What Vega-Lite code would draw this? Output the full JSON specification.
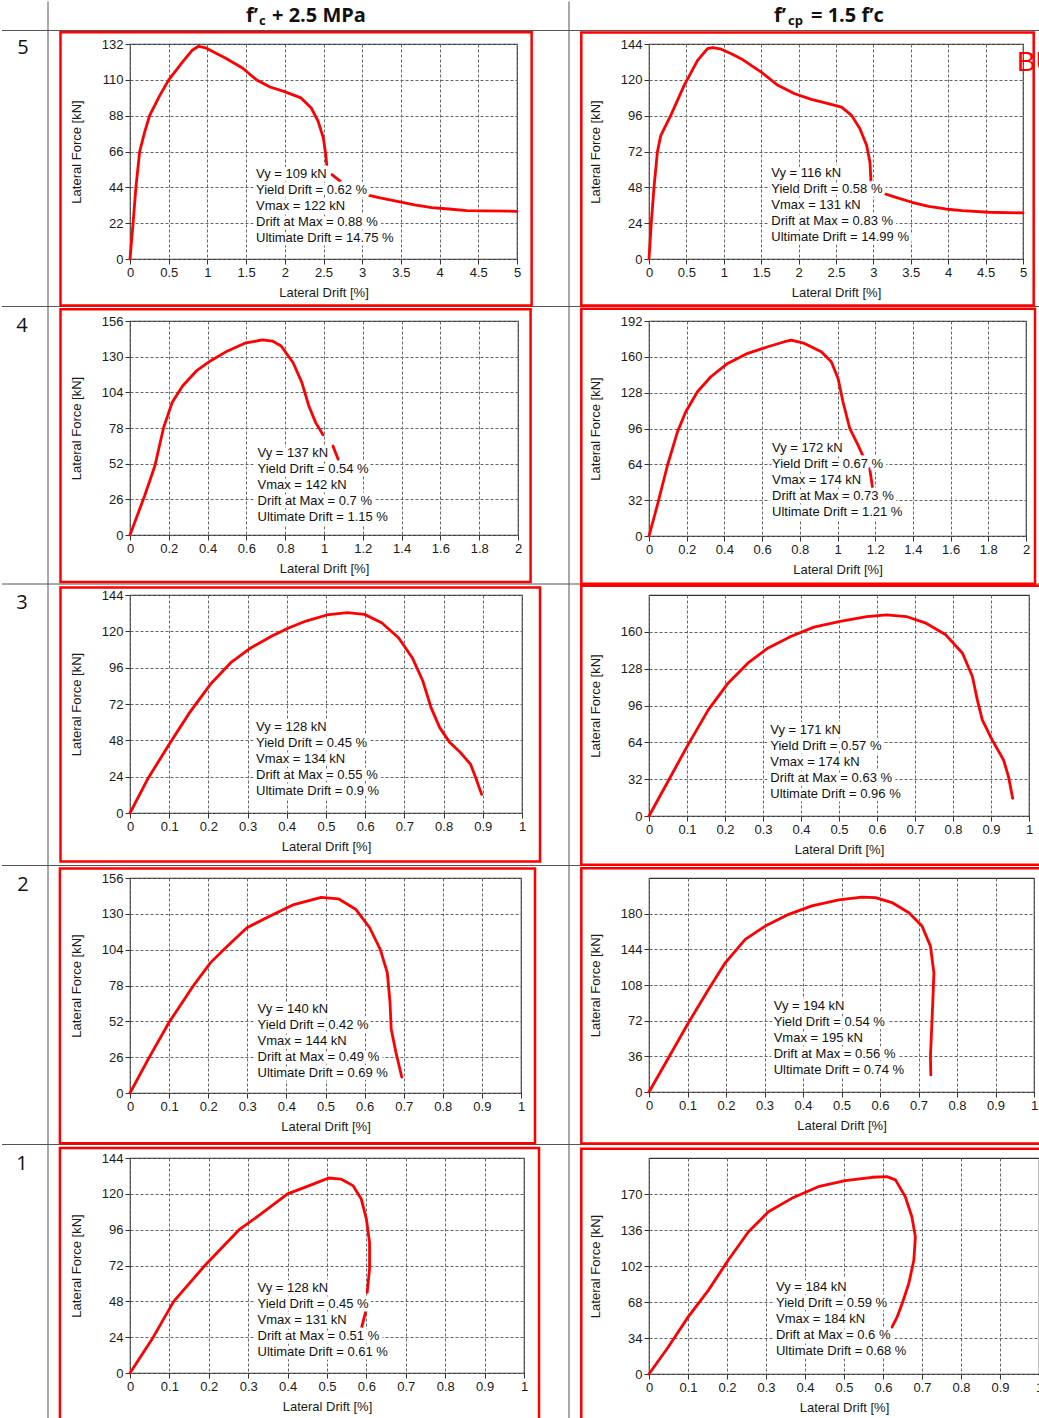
{
"$schema": "https://vega.github.io/schema/vega-lite/v6.json",
"background": "white",
"padding": 0,
"autosize": {"type": "pad"},
"datasets": {
"L5": [{"seg":1,"drift":0,"force":0},{"seg":1,"drift":0.04,"force":22},{"seg":1,"drift":0.076,"force":44},{"seg":1,"drift":0.125,"force":66},{"seg":1,"drift":0.19,"force":78},{"seg":1,"drift":0.253,"force":88},{"seg":1,"drift":0.38,"force":100},{"seg":1,"drift":0.5,"force":110},{"seg":1,"drift":0.68,"force":121},{"seg":1,"drift":0.8,"force":128},{"seg":1,"drift":0.885,"force":130.6},{"seg":1,"drift":0.98,"force":129.6},{"seg":1,"drift":1.231,"force":123.4},{"seg":1,"drift":1.453,"force":117.3},{"seg":1,"drift":1.631,"force":110.1},{"seg":1,"drift":1.809,"force":105.6},{"seg":1,"drift":1.987,"force":102.9},{"seg":1,"drift":2.209,"force":98.9},{"seg":1,"drift":2.342,"force":92.7},{"seg":1,"drift":2.431,"force":84.5},{"seg":1,"drift":2.498,"force":74.3},{"seg":1,"drift":2.529,"force":64.1},{"seg":1,"drift":2.542,"force":57.9},{"seg":2,"drift":2.609,"force":51.8},{"seg":2,"drift":2.72,"force":47.7},{"seg":3,"drift":3.089,"force":39.1},{"seg":3,"drift":3.231,"force":37.5},{"seg":3,"drift":3.453,"force":35.4},{"seg":3,"drift":3.676,"force":33.2},{"seg":3,"drift":3.898,"force":31.5},{"seg":3,"drift":4.12,"force":30.7},{"seg":3,"drift":4.35,"force":29.7},{"seg":3,"drift":4.6,"force":29.5},{"seg":3,"drift":5,"force":29.3}],
"R5": [{"seg":1,"drift":0,"force":0},{"seg":1,"drift":0.031,"force":24.6},{"seg":1,"drift":0.067,"force":48.1},{"seg":1,"drift":0.112,"force":71.6},{"seg":1,"drift":0.157,"force":82.7},{"seg":1,"drift":0.291,"force":96.2},{"seg":1,"drift":0.47,"force":116.3},{"seg":1,"drift":0.649,"force":133},{"seg":1,"drift":0.783,"force":140.9},{"seg":1,"drift":0.85,"force":141.5},{"seg":1,"drift":0.95,"force":140.8},{"seg":1,"drift":1.1,"force":137.5},{"seg":1,"drift":1.231,"force":134.2},{"seg":1,"drift":1.5,"force":125.2},{"seg":1,"drift":1.723,"force":116.3},{"seg":1,"drift":1.947,"force":110.7},{"seg":1,"drift":2.171,"force":106.9},{"seg":1,"drift":2.395,"force":104},{"seg":1,"drift":2.574,"force":101.7},{"seg":1,"drift":2.708,"force":96.2},{"seg":1,"drift":2.82,"force":87.2},{"seg":1,"drift":2.91,"force":76},{"seg":1,"drift":2.954,"force":64.8},{"seg":1,"drift":2.968,"force":51.4},{"seg":2,"drift":3.089,"force":44.7},{"seg":2,"drift":3.29,"force":41.4},{"seg":2,"drift":3.514,"force":38},{"seg":2,"drift":3.738,"force":35.3},{"seg":2,"drift":3.962,"force":33.5},{"seg":2,"drift":4.185,"force":32.4},{"seg":2,"drift":4.543,"force":31.3},{"seg":2,"drift":5,"force":30.9}],
"L4": [{"seg":1,"drift":0,"force":0},{"seg":1,"drift":0.075,"force":28.4},{"seg":1,"drift":0.128,"force":50.3},{"seg":1,"drift":0.173,"force":78.2},{"seg":1,"drift":0.217,"force":96.5},{"seg":1,"drift":0.271,"force":108.6},{"seg":1,"drift":0.342,"force":119.6},{"seg":1,"drift":0.414,"force":126.9},{"seg":1,"drift":0.503,"force":134.2},{"seg":1,"drift":0.592,"force":139.8},{"seg":1,"drift":0.681,"force":142.2},{"seg":1,"drift":0.734,"force":141.4},{"seg":1,"drift":0.779,"force":137.8},{"seg":1,"drift":0.841,"force":125.6},{"seg":1,"drift":0.886,"force":111.1},{"seg":1,"drift":0.922,"force":94},{"seg":1,"drift":0.957,"force":81.9},{"seg":1,"drift":0.995,"force":73},{"seg":2,"drift":1.046,"force":64.9},{"seg":2,"drift":1.073,"force":55.2}],
"R4": [{"seg":1,"drift":0,"force":0},{"seg":1,"drift":0.044,"force":27.4},{"seg":1,"drift":0.098,"force":63.2},{"seg":1,"drift":0.151,"force":93},{"seg":1,"drift":0.195,"force":110.9},{"seg":1,"drift":0.257,"force":128.8},{"seg":1,"drift":0.328,"force":142.2},{"seg":1,"drift":0.417,"force":154.1},{"seg":1,"drift":0.524,"force":163.1},{"seg":1,"drift":0.63,"force":169},{"seg":1,"drift":0.719,"force":173.5},{"seg":1,"drift":0.755,"force":175},{"seg":1,"drift":0.825,"force":172},{"seg":1,"drift":0.914,"force":164.6},{"seg":1,"drift":0.967,"force":155.6},{"seg":1,"drift":1.003,"force":140.7},{"seg":1,"drift":1.029,"force":119.9},{"seg":1,"drift":1.065,"force":96},{"seg":1,"drift":1.109,"force":81.1},{"seg":1,"drift":1.141,"force":69.2},{"seg":2,"drift":1.171,"force":60.2},{"seg":2,"drift":1.189,"force":39.4}],
"L3": [{"seg":1,"drift":0,"force":0},{"seg":1,"drift":0.047,"force":23.3},{"seg":1,"drift":0.1,"force":45.4},{"seg":1,"drift":0.152,"force":66.3},{"seg":1,"drift":0.205,"force":85},{"seg":1,"drift":0.257,"force":99.3},{"seg":1,"drift":0.309,"force":109.2},{"seg":1,"drift":0.362,"force":116.9},{"seg":1,"drift":0.406,"force":122.4},{"seg":1,"drift":0.449,"force":126.8},{"seg":1,"drift":0.502,"force":130.8},{"seg":1,"drift":0.554,"force":132.3},{"seg":1,"drift":0.598,"force":131.2},{"seg":1,"drift":0.642,"force":125.7},{"seg":1,"drift":0.685,"force":115.8},{"seg":1,"drift":0.72,"force":102.6},{"seg":1,"drift":0.747,"force":87.2},{"seg":1,"drift":0.768,"force":69.6},{"seg":1,"drift":0.79,"force":56.4},{"seg":1,"drift":0.816,"force":46.5},{"seg":1,"drift":0.843,"force":39.9},{"seg":1,"drift":0.869,"force":32.1},{"seg":1,"drift":0.882,"force":23.3},{"seg":1,"drift":0.897,"force":12.3}],
"R3": [{"seg":1,"drift":0,"force":0},{"seg":1,"drift":0.052,"force":31.3},{"seg":1,"drift":0.1,"force":60.3},{"seg":1,"drift":0.156,"force":92.2},{"seg":1,"drift":0.208,"force":115.4},{"seg":1,"drift":0.26,"force":132.8},{"seg":1,"drift":0.3125,"force":145.8},{"seg":1,"drift":0.373,"force":155.9},{"seg":1,"drift":0.434,"force":164.1},{"seg":1,"drift":0.503,"force":169},{"seg":1,"drift":0.573,"force":173.3},{"seg":1,"drift":0.625,"force":174.8},{"seg":1,"drift":0.677,"force":173.3},{"seg":1,"drift":0.729,"force":167.5},{"seg":1,"drift":0.781,"force":157.4},{"seg":1,"drift":0.825,"force":141.4},{"seg":1,"drift":0.851,"force":121.2},{"seg":1,"drift":0.864,"force":100.9},{"seg":1,"drift":0.877,"force":83.5},{"seg":1,"drift":0.903,"force":66.1},{"seg":1,"drift":0.933,"force":48.7},{"seg":1,"drift":0.946,"force":34.2},{"seg":1,"drift":0.957,"force":15.4}],
"L2": [{"seg":1,"drift":0,"force":0},{"seg":1,"drift":0.047,"force":24.8},{"seg":1,"drift":0.1,"force":51.3},{"seg":1,"drift":0.162,"force":77.8},{"seg":1,"drift":0.206,"force":94.6},{"seg":1,"drift":0.242,"force":104.7},{"seg":1,"drift":0.299,"force":119.9},{"seg":1,"drift":0.357,"force":128.3},{"seg":1,"drift":0.419,"force":136.7},{"seg":1,"drift":0.489,"force":142},{"seg":1,"drift":0.534,"force":140.8},{"seg":1,"drift":0.578,"force":133.1},{"seg":1,"drift":0.613,"force":119.9},{"seg":1,"drift":0.64,"force":104.2},{"seg":1,"drift":0.658,"force":87.4},{"seg":1,"drift":0.665,"force":65.7},{"seg":1,"drift":0.668,"force":46.5},{"seg":1,"drift":0.68,"force":29.6},{"seg":1,"drift":0.695,"force":11.6}],
"R2": [{"seg":1,"drift":0,"force":0},{"seg":1,"drift":0.05,"force":34.1},{"seg":1,"drift":0.102,"force":69.6},{"seg":1,"drift":0.154,"force":103.3},{"seg":1,"drift":0.198,"force":130.4},{"seg":1,"drift":0.25,"force":154},{"seg":1,"drift":0.302,"force":167.5},{"seg":1,"drift":0.363,"force":179.3},{"seg":1,"drift":0.423,"force":187.8},{"seg":1,"drift":0.493,"force":193.9},{"seg":1,"drift":0.553,"force":196.6},{"seg":1,"drift":0.588,"force":196.2},{"seg":1,"drift":0.631,"force":191.2},{"seg":1,"drift":0.675,"force":181},{"seg":1,"drift":0.709,"force":167.5},{"seg":1,"drift":0.731,"force":147.2},{"seg":1,"drift":0.74,"force":120.2},{"seg":1,"drift":0.737,"force":89.8},{"seg":1,"drift":0.734,"force":62.8},{"seg":1,"drift":0.731,"force":35.8},{"seg":1,"drift":0.732,"force":17.2}],
"L1": [{"seg":1,"drift":0,"force":0},{"seg":1,"drift":0.059,"force":24},{"seg":1,"drift":0.111,"force":48},{"seg":1,"drift":0.19,"force":72},{"seg":1,"drift":0.277,"force":96},{"seg":1,"drift":0.33,"force":106},{"seg":1,"drift":0.4,"force":120},{"seg":1,"drift":0.46,"force":126},{"seg":1,"drift":0.504,"force":130.6},{"seg":1,"drift":0.535,"force":129.9},{"seg":1,"drift":0.566,"force":125.5},{"seg":1,"drift":0.587,"force":116.5},{"seg":1,"drift":0.6,"force":103.1},{"seg":1,"drift":0.608,"force":87.5},{"seg":1,"drift":0.608,"force":69.7},{"seg":1,"drift":0.602,"force":54},{"seg":2,"drift":0.599,"force":42},{"seg":2,"drift":0.587,"force":29.5}],
"R1": [{"seg":1,"drift":0,"force":0},{"seg":1,"drift":0.049,"force":25.3},{"seg":1,"drift":0.1,"force":53.7},{"seg":1,"drift":0.152,"force":79},{"seg":1,"drift":0.203,"force":107.4},{"seg":1,"drift":0.255,"force":134.3},{"seg":1,"drift":0.306,"force":153.2},{"seg":1,"drift":0.366,"force":165.9},{"seg":1,"drift":0.434,"force":176.9},{"seg":1,"drift":0.503,"force":182.6},{"seg":1,"drift":0.572,"force":185.8},{"seg":1,"drift":0.61,"force":186.4},{"seg":1,"drift":0.632,"force":183.3},{"seg":1,"drift":0.657,"force":167.5},{"seg":1,"drift":0.674,"force":148.5},{"seg":1,"drift":0.683,"force":129.5},{"seg":1,"drift":0.679,"force":107.4},{"seg":1,"drift":0.666,"force":85.3},{"seg":1,"drift":0.649,"force":66.4},{"seg":1,"drift":0.636,"force":53.7},{"seg":1,"drift":0.623,"force":44.2}]
},
"columns": 2,
"spacing": {"row": 0, "column": 125},
"bounds": "flush",
"align": "each",
"concat": [
{"width": 354, "height": 29, "data": {"values": [{}]}, "view": {"stroke": null}, "layer": [
   {"mark": {"type": "text", "text": "f’", "font": "Open Sans", "fontWeight": "bold", "fontSize": 20, "align": "right", "baseline": "middle", "dx": -49, "color": "#111"}},
   {"mark": {"type": "text", "text": "c", "font": "Open Sans", "fontWeight": "bold", "fontSize": 13, "align": "left", "baseline": "middle", "dx": -48, "dy": 5, "color": "#111"}},
   {"mark": {"type": "text", "text": "+ 2.5 MPa", "font": "Open Sans", "fontWeight": "bold", "fontSize": 20, "align": "left", "baseline": "middle", "dx": -35, "color": "#111"}}
]},
{"width": 362, "height": 29, "data": {"values": [{}]}, "view": {"stroke": null}, "layer": [
   {"mark": {"type": "text", "text": "f’", "font": "Open Sans", "fontWeight": "bold", "fontSize": 20, "align": "right", "baseline": "middle", "dx": -44, "color": "#111"}},
   {"mark": {"type": "text", "text": "cp", "font": "Open Sans", "fontWeight": "bold", "fontSize": 13, "align": "left", "baseline": "middle", "dx": -42, "dy": 5, "color": "#111"}},
   {"mark": {"type": "text", "text": "= 1.5 f’c", "font": "Open Sans", "fontWeight": "bold", "fontSize": 20, "align": "left", "baseline": "middle", "dx": -19, "color": "#111"}}
]},
{"width":1,"height":13.5,"data":{"values":[]},"mark":"point","view":{"stroke":null}},
{"width":1,"height":13.5,"data":{"values":[]},"mark":"point","view":{"stroke":null}},

{"width": 387, "height": 215, "layer": [
   {"data": {"values": [{}]}, "mark": {"type": "rule", "color": "#555", "strokeWidth": 1, "clip": false},
    "encoding": {"x": {"datum": -1.6537, "type": "quantitative"}, "x2": {"datum": 11.770}, "y": {"datum": 140.29, "type": "quantitative"}}},
   {"data": {"values": [{}]}, "mark": {"type": "rule", "color": "#555", "strokeWidth": 1, "clip": false},
    "encoding": {"x": {"datum": -1.6537, "type": "quantitative"}, "x2": {"datum": 11.770}, "y": {"datum": -29.16, "type": "quantitative"}}},
   {"data": {"values": [{}]}, "mark": {"type": "rule", "color": "#555", "strokeWidth": 1, "clip": false},
    "encoding": {"x": {"datum": -1.0594, "type": "quantitative"}, "y": {"datum": 158.09, "type": "quantitative"}, "y2": {"datum": -712.49}}},
   {"data": {"values": [{}]}, "mark": {"type": "rule", "color": "#555", "strokeWidth": 1, "clip": false},
    "encoding": {"x": {"datum": 5.6718, "type": "quantitative"}, "y": {"datum": 158.09, "type": "quantitative"}, "y2": {"datum": -712.49}}},
   {"data": {"name": "L5"}, "mark": {"type": "line", "color": "#ff0000", "strokeWidth": 2.8, "strokeCap": "round", "strokeJoin": "round"},
    "encoding": {"x": {"field": "drift", "type": "quantitative", "scale": {"domain": [0, 5], "nice": false, "zero": false}, "axis": {"values": [0,0.5,1,1.5,2,2.5,3,3.5,4,4.5,5], "format": "~g", "title": "Lateral Drift [%]"}},
                 "y": {"field": "force", "type": "quantitative", "scale": {"domain": [0, 132], "nice": false, "zero": false}, "axis": {"values": [0,22,44,66,88,110,132], "format": "d", "title": "Lateral Force [kN]"}},
                 "detail": {"field": "seg"}, "order": {"value": null}}},
   {"data": {"values": [{}]}, "mark": {"type": "text", "text": ["Vy = 109 kN", "Yield Drift = 0.62 %", "Vmax = 122 kN", "Drift at Max = 0.88 %", "Ultimate Drift = 14.75 %"], "align": "left", "baseline": "top", "lineHeight": 16, "fontSize": 13, "font": "Liberation Sans, Arial, sans-serif", "fill": "white", "stroke": "white", "strokeWidth": 7, "strokeJoin": "round"},
    "encoding": {"x": {"datum": 1.628, "type": "quantitative"}, "y": {"datum": 56.12, "type": "quantitative"}}},
   {"data": {"values": [{}]}, "mark": {"type": "text", "text": ["Vy = 109 kN", "Yield Drift = 0.62 %", "Vmax = 122 kN", "Drift at Max = 0.88 %", "Ultimate Drift = 14.75 %"], "align": "left", "baseline": "top", "lineHeight": 16, "fontSize": 13, "font": "Liberation Sans, Arial, sans-serif", "color": "#111"},
    "encoding": {"x": {"datum": 1.628, "type": "quantitative"}, "y": {"datum": 56.12, "type": "quantitative"}}},
   {"data": {"values": [{}]}, "mark": {"type": "text", "text": "5", "align": "center", "baseline": "middle", "fontSize": 20, "font": "Open Sans", "color": "#111", "clip": false},
    "encoding": {"x": {"datum": -1.3824, "type": "quantitative"}, "y": {"datum": 129.54, "type": "quantitative"}}},
   {"data": {"values": [{}]}, "mark": {"type": "rect", "filled": false, "color": "#ff0000", "strokeWidth": 2.5, "clip": false},
    "encoding": {"x": {"datum": -0.898, "type": "quantitative"}, "x2": {"datum": 5.189}, "y": {"datum": 139.24, "type": "quantitative"}, "y2": {"datum": -28.55}}}
]},
{"width": 374, "height": 215, "layer": [
   {"data": {"name": "R5"}, "mark": {"type": "line", "color": "#ff0000", "strokeWidth": 2.8, "strokeCap": "round", "strokeJoin": "round"},
    "encoding": {"x": {"field": "drift", "type": "quantitative", "scale": {"domain": [0, 5], "nice": false, "zero": false}, "axis": {"values": [0,0.5,1,1.5,2,2.5,3,3.5,4,4.5,5], "format": "~g", "title": "Lateral Drift [%]"}},
                 "y": {"field": "force", "type": "quantitative", "scale": {"domain": [0, 144], "nice": false, "zero": false}, "axis": {"values": [0,24,48,72,96,120,144], "format": "d", "title": "Lateral Force [kN]"}},
                 "detail": {"field": "seg"}, "order": {"value": null}}},
   {"data": {"values": [{}]}, "mark": {"type": "text", "text": ["Vy = 116 kN", "Yield Drift = 0.58 %", "Vmax = 131 kN", "Drift at Max = 0.83 %", "Ultimate Drift = 14.99 %"], "align": "left", "baseline": "top", "lineHeight": 16, "fontSize": 13, "font": "Liberation Sans, Arial, sans-serif", "fill": "white", "stroke": "white", "strokeWidth": 7, "strokeJoin": "round"},
    "encoding": {"x": {"datum": 1.635, "type": "quantitative"}, "y": {"datum": 61.48, "type": "quantitative"}}},
   {"data": {"values": [{}]}, "mark": {"type": "text", "text": ["Vy = 116 kN", "Yield Drift = 0.58 %", "Vmax = 131 kN", "Drift at Max = 0.83 %", "Ultimate Drift = 14.99 %"], "align": "left", "baseline": "top", "lineHeight": 16, "fontSize": 13, "font": "Liberation Sans, Arial, sans-serif", "color": "#111"},
    "encoding": {"x": {"datum": 1.635, "type": "quantitative"}, "y": {"datum": 61.48, "type": "quantitative"}}},
   {"data": {"values": [{}]}, "mark": {"type": "rect", "filled": false, "color": "#ff0000", "strokeWidth": 2.5, "clip": false},
    "encoding": {"x": {"datum": -0.905, "type": "quantitative"}, "x2": {"datum": 5.143}, "y": {"datum": 151.70, "type": "quantitative"}, "y2": {"datum": -31.14}}},
   {"data": {"values": [{}]}, "mark": {"type": "text", "text": "BU", "align": "left", "baseline": "middle", "fontSize": 28, "font": "Liberation Sans, sans-serif", "color": "#ff0000", "clip": false},
    "encoding": {"x": {"datum": 4.92, "type": "quantitative"}, "y": {"datum": 130.94, "type": "quantitative"}}}
]},

{"width":1,"height":61.5,"data":{"values":[]},"mark":"point","view":{"stroke":null}},
{"width":1,"height":61.5,"data":{"values":[]},"mark":"point","view":{"stroke":null}},

{"width": 388, "height": 214, "layer": [
   {"data": {"values": [{}]}, "mark": {"type": "rule", "color": "#555", "strokeWidth": 1, "clip": false},
    "encoding": {"x": {"datum": -0.6598, "type": "quantitative"}, "x2": {"datum": 4.6958}, "y": {"datum": -35.72, "type": "quantitative"}}},
   {"data": {"name": "L4"}, "mark": {"type": "line", "color": "#ff0000", "strokeWidth": 2.8, "strokeCap": "round", "strokeJoin": "round"},
    "encoding": {"x": {"field": "drift", "type": "quantitative", "scale": {"domain": [0, 2], "nice": false, "zero": false}, "axis": {"values": [0,0.2,0.4,0.6,0.8,1,1.2,1.4,1.6,1.8,2], "format": "~g", "title": "Lateral Drift [%]"}},
                 "y": {"field": "force", "type": "quantitative", "scale": {"domain": [0, 156], "nice": false, "zero": false}, "axis": {"values": [0,26,52,78,104,130,156], "format": "d", "title": "Lateral Force [kN]"}},
                 "detail": {"field": "seg"}, "order": {"value": null}}},
   {"data": {"values": [{}]}, "mark": {"type": "text", "text": ["Vy = 137 kN", "Yield Drift = 0.54 %", "Vmax = 142 kN", "Drift at Max = 0.7 %", "Ultimate Drift = 1.15 %"], "align": "left", "baseline": "top", "lineHeight": 16, "fontSize": 13, "font": "Liberation Sans, Arial, sans-serif", "fill": "white", "stroke": "white", "strokeWidth": 7, "strokeJoin": "round"},
    "encoding": {"x": {"datum": 0.6572, "type": "quantitative"}, "y": {"datum": 64.08, "type": "quantitative"}}},
   {"data": {"values": [{}]}, "mark": {"type": "text", "text": ["Vy = 137 kN", "Yield Drift = 0.54 %", "Vmax = 142 kN", "Drift at Max = 0.7 %", "Ultimate Drift = 1.15 %"], "align": "left", "baseline": "top", "lineHeight": 16, "fontSize": 13, "font": "Liberation Sans, Arial, sans-serif", "color": "#111"},
    "encoding": {"x": {"datum": 0.6572, "type": "quantitative"}, "y": {"datum": 64.08, "type": "quantitative"}}},
   {"data": {"values": [{}]}, "mark": {"type": "text", "text": "4", "align": "center", "baseline": "middle", "fontSize": 20, "font": "Open Sans", "color": "#111", "clip": false},
    "encoding": {"x": {"datum": -0.5567, "type": "quantitative"}, "y": {"datum": 152.14, "type": "quantitative"}}},
   {"data": {"values": [{}]}, "mark": {"type": "rect", "filled": false, "color": "#ff0000", "strokeWidth": 2.5, "clip": false},
    "encoding": {"x": {"datum": -0.3582, "type": "quantitative"}, "x2": {"datum": 2.0649}, "y": {"datum": 164.53, "type": "quantitative"}, "y2": {"datum": -34.26}}}
]},
{"width": 377, "height": 215, "layer": [
   {"data": {"name": "R4"}, "mark": {"type": "line", "color": "#ff0000", "strokeWidth": 2.8, "strokeCap": "round", "strokeJoin": "round"},
    "encoding": {"x": {"field": "drift", "type": "quantitative", "scale": {"domain": [0, 2], "nice": false, "zero": false}, "axis": {"values": [0,0.2,0.4,0.6,0.8,1,1.2,1.4,1.6,1.8,2], "format": "~g", "title": "Lateral Drift [%]"}},
                 "y": {"field": "force", "type": "quantitative", "scale": {"domain": [0, 192], "nice": false, "zero": false}, "axis": {"values": [0,32,64,96,128,160,192], "format": "d", "title": "Lateral Force [kN]"}},
                 "detail": {"field": "seg"}, "order": {"value": null}}},
   {"data": {"values": [{}]}, "mark": {"type": "text", "text": ["Vy = 172 kN", "Yield Drift = 0.67 %", "Vmax = 174 kN", "Drift at Max = 0.73 %", "Ultimate Drift = 1.21 %"], "align": "left", "baseline": "top", "lineHeight": 16, "fontSize": 13, "font": "Liberation Sans, Arial, sans-serif", "fill": "white", "stroke": "white", "strokeWidth": 7, "strokeJoin": "round"},
    "encoding": {"x": {"datum": 0.6525, "type": "quantitative"}, "y": {"datum": 83.85, "type": "quantitative"}}},
   {"data": {"values": [{}]}, "mark": {"type": "text", "text": ["Vy = 172 kN", "Yield Drift = 0.67 %", "Vmax = 174 kN", "Drift at Max = 0.73 %", "Ultimate Drift = 1.21 %"], "align": "left", "baseline": "top", "lineHeight": 16, "fontSize": 13, "font": "Liberation Sans, Arial, sans-serif", "color": "#111"},
    "encoding": {"x": {"datum": 0.6525, "type": "quantitative"}, "y": {"datum": 83.85, "type": "quantitative"}}},
   {"data": {"values": [{}]}, "mark": {"type": "rect", "filled": false, "color": "#ff0000", "strokeWidth": 2.5, "clip": false},
    "encoding": {"x": {"datum": -0.3591, "type": "quantitative"}, "x2": {"datum": 2.0477}, "y": {"datum": 202.98, "type": "quantitative"}, "y2": {"datum": -42.60}}}
]},

{"width":1,"height":58.5,"data":{"values":[]},"mark":"point","view":{"stroke":null}},
{"width":1,"height":58.5,"data":{"values":[]},"mark":"point","view":{"stroke":null}},

{"width": 392, "height": 218, "layer": [
   {"data": {"values": [{}]}, "mark": {"type": "rule", "color": "#555", "strokeWidth": 1, "clip": false},
    "encoding": {"x": {"datum": -0.3265, "type": "quantitative"}, "x2": {"datum": 2.3240}, "y": {"datum": -34.68, "type": "quantitative"}}},
   {"data": {"name": "L3"}, "mark": {"type": "line", "color": "#ff0000", "strokeWidth": 2.8, "strokeCap": "round", "strokeJoin": "round"},
    "encoding": {"x": {"field": "drift", "type": "quantitative", "scale": {"domain": [0, 1], "nice": false, "zero": false}, "axis": {"values": [0,0.1,0.2,0.3,0.4,0.5,0.6,0.7,0.8,0.9,1], "format": "~g", "title": "Lateral Drift [%]"}},
                 "y": {"field": "force", "type": "quantitative", "scale": {"domain": [0, 144], "nice": false, "zero": false}, "axis": {"values": [0,24,48,72,96,120,144], "format": "d", "title": "Lateral Force [kN]"}},
                 "detail": {"field": "seg"}, "order": {"value": null}}},
   {"data": {"values": [{}]}, "mark": {"type": "text", "text": ["Vy = 128 kN", "Yield Drift = 0.45 %", "Vmax = 134 kN", "Drift at Max = 0.55 %", "Ultimate Drift = 0.9 %"], "align": "left", "baseline": "top", "lineHeight": 16, "fontSize": 13, "font": "Liberation Sans, Arial, sans-serif", "fill": "white", "stroke": "white", "strokeWidth": 7, "strokeJoin": "round"},
    "encoding": {"x": {"datum": 0.3214, "type": "quantitative"}, "y": {"datum": 60.84, "type": "quantitative"}}},
   {"data": {"values": [{}]}, "mark": {"type": "text", "text": ["Vy = 128 kN", "Yield Drift = 0.45 %", "Vmax = 134 kN", "Drift at Max = 0.55 %", "Ultimate Drift = 0.9 %"], "align": "left", "baseline": "top", "lineHeight": 16, "fontSize": 13, "font": "Liberation Sans, Arial, sans-serif", "color": "#111"},
    "encoding": {"x": {"datum": 0.3214, "type": "quantitative"}, "y": {"datum": 60.84, "type": "quantitative"}}},
   {"data": {"values": [{}]}, "mark": {"type": "text", "text": "3", "align": "center", "baseline": "middle", "fontSize": 20, "font": "Open Sans", "color": "#111", "clip": false},
    "encoding": {"x": {"datum": -0.2755, "type": "quantitative"}, "y": {"datum": 138.39, "type": "quantitative"}}},
   {"data": {"values": [{}]}, "mark": {"type": "rect", "filled": false, "color": "#ff0000", "strokeWidth": 2.5, "clip": false},
    "encoding": {"x": {"datum": -0.1773, "type": "quantitative"}, "x2": {"datum": 1.0459}, "y": {"datum": 148.95, "type": "quantitative"}, "y2": {"datum": -32.04}}}
]},
{"width": 380, "height": 221, "layer": [
   {"data": {"name": "R3"}, "mark": {"type": "line", "color": "#ff0000", "strokeWidth": 2.8, "strokeCap": "round", "strokeJoin": "round"},
    "encoding": {"x": {"field": "drift", "type": "quantitative", "scale": {"domain": [0, 1], "nice": false, "zero": false}, "axis": {"values": [0,0.1,0.2,0.3,0.4,0.5,0.6,0.7,0.8,0.9,1], "format": "~g", "title": "Lateral Drift [%]"}},
                 "y": {"field": "force", "type": "quantitative", "scale": {"domain": [0, 192], "nice": false, "zero": false}, "axis": {"values": [0,32,64,96,128,160], "format": "d", "title": "Lateral Force [kN]"}},
                 "detail": {"field": "seg"}, "order": {"value": null}}},
   {"data": {"values": [{}]}, "mark": {"type": "text", "text": ["Vy = 171 kN", "Yield Drift = 0.57 %", "Vmax = 174 kN", "Drift at Max = 0.63 %", "Ultimate Drift = 0.96 %"], "align": "left", "baseline": "top", "lineHeight": 16, "fontSize": 13, "font": "Liberation Sans, Arial, sans-serif", "fill": "white", "stroke": "white", "strokeWidth": 7, "strokeJoin": "round"},
    "encoding": {"x": {"datum": 0.3192, "type": "quantitative"}, "y": {"datum": 79.75, "type": "quantitative"}}},
   {"data": {"values": [{}]}, "mark": {"type": "text", "text": ["Vy = 171 kN", "Yield Drift = 0.57 %", "Vmax = 174 kN", "Drift at Max = 0.63 %", "Ultimate Drift = 0.96 %"], "align": "left", "baseline": "top", "lineHeight": 16, "fontSize": 13, "font": "Liberation Sans, Arial, sans-serif", "color": "#111"},
    "encoding": {"x": {"datum": 0.3192, "type": "quantitative"}, "y": {"datum": 79.75, "type": "quantitative"}}},
   {"data": {"values": [{}]}, "mark": {"type": "rect", "filled": false, "color": "#ff0000", "strokeWidth": 2.5, "clip": false},
    "encoding": {"x": {"datum": -0.1782, "type": "quantitative"}, "x2": {"datum": 1.0474}, "y": {"datum": 199.99, "type": "quantitative"}, "y2": {"datum": -42.40}}}
]},

{"width":1,"height":62,"data":{"values":[]},"mark":"point","view":{"stroke":null}},
{"width":1,"height":62,"data":{"values":[]},"mark":"point","view":{"stroke":null}},

{"width": 391, "height": 215, "layer": [
   {"data": {"values": [{}]}, "mark": {"type": "rule", "color": "#555", "strokeWidth": 1, "clip": false},
    "encoding": {"x": {"datum": -0.3274, "type": "quantitative"}, "x2": {"datum": 2.3299}, "y": {"datum": -37.37, "type": "quantitative"}}},
   {"data": {"name": "L2"}, "mark": {"type": "line", "color": "#ff0000", "strokeWidth": 2.8, "strokeCap": "round", "strokeJoin": "round"},
    "encoding": {"x": {"field": "drift", "type": "quantitative", "scale": {"domain": [0, 1], "nice": false, "zero": false}, "axis": {"values": [0,0.1,0.2,0.3,0.4,0.5,0.6,0.7,0.8,0.9,1], "format": "~g", "title": "Lateral Drift [%]"}},
                 "y": {"field": "force", "type": "quantitative", "scale": {"domain": [0, 156], "nice": false, "zero": false}, "axis": {"values": [0,26,52,78,104,130,156], "format": "d", "title": "Lateral Force [kN]"}},
                 "detail": {"field": "seg"}, "order": {"value": null}}},
   {"data": {"values": [{}]}, "mark": {"type": "text", "text": ["Vy = 140 kN", "Yield Drift = 0.42 %", "Vmax = 144 kN", "Drift at Max = 0.49 %", "Ultimate Drift = 0.69 %"], "align": "left", "baseline": "top", "lineHeight": 16, "fontSize": 13, "font": "Liberation Sans, Arial, sans-serif", "fill": "white", "stroke": "white", "strokeWidth": 7, "strokeJoin": "round"},
    "encoding": {"x": {"datum": 0.3261, "type": "quantitative"}, "y": {"datum": 65.59, "type": "quantitative"}}},
   {"data": {"values": [{}]}, "mark": {"type": "text", "text": ["Vy = 140 kN", "Yield Drift = 0.42 %", "Vmax = 144 kN", "Drift at Max = 0.49 %", "Ultimate Drift = 0.69 %"], "align": "left", "baseline": "top", "lineHeight": 16, "fontSize": 13, "font": "Liberation Sans, Arial, sans-serif", "color": "#111"},
    "encoding": {"x": {"datum": 0.3261, "type": "quantitative"}, "y": {"datum": 65.59, "type": "quantitative"}}},
   {"data": {"values": [{}]}, "mark": {"type": "text", "text": "2", "align": "center", "baseline": "middle", "fontSize": 20, "font": "Open Sans", "color": "#111", "clip": false},
    "encoding": {"x": {"datum": -0.2737, "type": "quantitative"}, "y": {"datum": 150.56, "type": "quantitative"}}},
   {"data": {"values": [{}]}, "mark": {"type": "rect", "filled": false, "color": "#ff0000", "strokeWidth": 2.5, "clip": false},
    "encoding": {"x": {"datum": -0.1793, "type": "quantitative"}, "x2": {"datum": 1.0358}, "y": {"datum": 162.89, "type": "quantitative"}, "y2": {"datum": -36.42}}}
]},
{"width": 385, "height": 214, "layer": [
   {"data": {"name": "R2"}, "mark": {"type": "line", "color": "#ff0000", "strokeWidth": 2.8, "strokeCap": "round", "strokeJoin": "round"},
    "encoding": {"x": {"field": "drift", "type": "quantitative", "scale": {"domain": [0, 1], "nice": false, "zero": false}, "axis": {"values": [0,0.1,0.2,0.3,0.4,0.5,0.6,0.7,0.8,0.9,1], "format": "~g", "title": "Lateral Drift [%]"}},
                 "y": {"field": "force", "type": "quantitative", "scale": {"domain": [0, 216], "nice": false, "zero": false}, "axis": {"values": [0,36,72,108,144,180], "format": "d", "title": "Lateral Force [kN]"}},
                 "detail": {"field": "seg"}, "order": {"value": null}}},
   {"data": {"values": [{}]}, "mark": {"type": "text", "text": ["Vy = 194 kN", "Yield Drift = 0.54 %", "Vmax = 195 kN", "Drift at Max = 0.56 %", "Ultimate Drift = 0.74 %"], "align": "left", "baseline": "top", "lineHeight": 16, "fontSize": 13, "font": "Liberation Sans, Arial, sans-serif", "fill": "white", "stroke": "white", "strokeWidth": 7, "strokeJoin": "round"},
    "encoding": {"x": {"datum": 0.3239, "type": "quantitative"}, "y": {"datum": 92.96, "type": "quantitative"}}},
   {"data": {"values": [{}]}, "mark": {"type": "text", "text": ["Vy = 194 kN", "Yield Drift = 0.54 %", "Vmax = 195 kN", "Drift at Max = 0.56 %", "Ultimate Drift = 0.74 %"], "align": "left", "baseline": "top", "lineHeight": 16, "fontSize": 13, "font": "Liberation Sans, Arial, sans-serif", "color": "#111"},
    "encoding": {"x": {"datum": 0.3239, "type": "quantitative"}, "y": {"datum": 92.96, "type": "quantitative"}}},
   {"data": {"values": [{}]}, "mark": {"type": "rect", "filled": false, "color": "#ff0000", "strokeWidth": 2.5, "clip": false},
    "encoding": {"x": {"datum": -0.1758, "type": "quantitative"}, "x2": {"datum": 1.0338}, "y": {"datum": 225.89, "type": "quantitative"}, "y2": {"datum": -51.98}}}
]},

{"width":1,"height":64.5,"data":{"values":[]},"mark":"point","view":{"stroke":null}},
{"width":1,"height":64.5,"data":{"values":[]},"mark":"point","view":{"stroke":null}},

{"width": 394, "height": 215, "layer": [
   {"data": {"name": "L1"}, "mark": {"type": "line", "color": "#ff0000", "strokeWidth": 2.8, "strokeCap": "round", "strokeJoin": "round"},
    "encoding": {"x": {"field": "drift", "type": "quantitative", "scale": {"domain": [0, 1], "nice": false, "zero": false}, "axis": {"values": [0,0.1,0.2,0.3,0.4,0.5,0.6,0.7,0.8,0.9,1], "format": "~g", "title": "Lateral Drift [%]"}},
                 "y": {"field": "force", "type": "quantitative", "scale": {"domain": [0, 144], "nice": false, "zero": false}, "axis": {"values": [0,24,48,72,96,120,144], "format": "d", "title": "Lateral Force [kN]"}},
                 "detail": {"field": "seg"}, "order": {"value": null}}},
   {"data": {"values": [{}]}, "mark": {"type": "text", "text": ["Vy = 128 kN", "Yield Drift = 0.45 %", "Vmax = 131 kN", "Drift at Max = 0.51 %", "Ultimate Drift = 0.61 %"], "align": "left", "baseline": "top", "lineHeight": 16, "fontSize": 13, "font": "Liberation Sans, Arial, sans-serif", "fill": "white", "stroke": "white", "strokeWidth": 7, "strokeJoin": "round"},
    "encoding": {"x": {"datum": 0.3236, "type": "quantitative"}, "y": {"datum": 60.88, "type": "quantitative"}}},
   {"data": {"values": [{}]}, "mark": {"type": "text", "text": ["Vy = 128 kN", "Yield Drift = 0.45 %", "Vmax = 131 kN", "Drift at Max = 0.51 %", "Ultimate Drift = 0.61 %"], "align": "left", "baseline": "top", "lineHeight": 16, "fontSize": 13, "font": "Liberation Sans, Arial, sans-serif", "color": "#111"},
    "encoding": {"x": {"datum": 0.3236, "type": "quantitative"}, "y": {"datum": 60.88, "type": "quantitative"}}},
   {"data": {"values": [{}]}, "mark": {"type": "text", "text": "1", "align": "center", "baseline": "middle", "fontSize": 20, "font": "Open Sans", "color": "#111", "clip": false},
    "encoding": {"x": {"datum": -0.2741, "type": "quantitative"}, "y": {"datum": 139.98, "type": "quantitative"}}},
   {"data": {"values": [{}]}, "mark": {"type": "rect", "filled": false, "color": "#ff0000", "strokeWidth": 2.5, "clip": false},
    "encoding": {"x": {"datum": -0.1779, "type": "quantitative"}, "x2": {"datum": 1.0381}, "y": {"datum": 150.70, "type": "quantitative"}, "y2": {"datum": -34.83}}}
]},
{"width": 390, "height": 216, "layer": [
   {"data": {"name": "R1"}, "mark": {"type": "line", "color": "#ff0000", "strokeWidth": 2.8, "strokeCap": "round", "strokeJoin": "round"},
    "encoding": {"x": {"field": "drift", "type": "quantitative", "scale": {"domain": [0, 1], "nice": false, "zero": false}, "axis": {"values": [0,0.1,0.2,0.3,0.4,0.5,0.6,0.7,0.8,0.9,1], "format": "~g", "title": "Lateral Drift [%]"}},
                 "y": {"field": "force", "type": "quantitative", "scale": {"domain": [0, 204], "nice": false, "zero": false}, "axis": {"values": [0,34,68,102,136,170], "format": "d", "title": "Lateral Force [kN]"}},
                 "detail": {"field": "seg"}, "order": {"value": null}}},
   {"data": {"values": [{}]}, "mark": {"type": "text", "text": ["Vy = 184 kN", "Yield Drift = 0.59 %", "Vmax = 184 kN", "Drift at Max = 0.6 %", "Ultimate Drift = 0.68 %"], "align": "left", "baseline": "top", "lineHeight": 16, "fontSize": 13, "font": "Liberation Sans, Arial, sans-serif", "fill": "white", "stroke": "white", "strokeWidth": 7, "strokeJoin": "round"},
    "encoding": {"x": {"datum": 0.3256, "type": "quantitative"}, "y": {"datum": 87.46, "type": "quantitative"}}},
   {"data": {"values": [{}]}, "mark": {"type": "text", "text": ["Vy = 184 kN", "Yield Drift = 0.59 %", "Vmax = 184 kN", "Drift at Max = 0.6 %", "Ultimate Drift = 0.68 %"], "align": "left", "baseline": "top", "lineHeight": 16, "fontSize": 13, "font": "Liberation Sans, Arial, sans-serif", "color": "#111"},
    "encoding": {"x": {"datum": 0.3256, "type": "quantitative"}, "y": {"datum": 87.46, "type": "quantitative"}}},
   {"data": {"values": [{}]}, "mark": {"type": "rect", "filled": false, "color": "#ff0000", "strokeWidth": 2.5, "clip": false},
    "encoding": {"x": {"datum": -0.1736, "type": "quantitative"}, "x2": {"datum": 1.0205}, "y": {"datum": 212.78, "type": "quantitative"}, "y2": {"datum": -48.17}}}
]}
],
"config": {
  "view": {"stroke": "#333", "strokeWidth": 1.2},
  "axis": {"tickCount": 40, "labelFont": "Liberation Sans, Arial, sans-serif", "labelFontSize": 13, "labelColor": "#1a1a1a", "tickColor": "#333", "tickSize": 5, "tickWidth": 1, "domain": false, "grid": true, "gridColor": "#666", "gridDash": [3, 2], "gridWidth": 1, "labelPadding": 2, "labelOverlap": false, "labelFlush": false, "titleColor": "#1a1a1a", "titleFontWeight": "normal", "titleFont": "Liberation Sans, Arial, sans-serif", "titleFontSize": 13},
  "axisX": {"titlePadding": 7},
  "axisY": {"titlePadding": 18}
}
}
